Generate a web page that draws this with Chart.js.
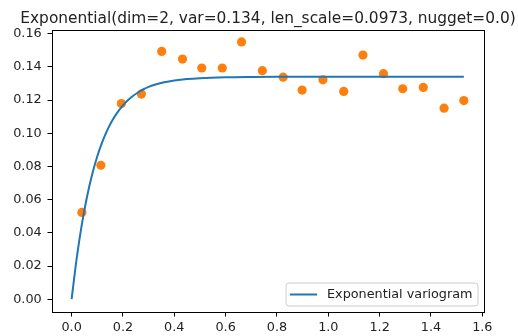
<!DOCTYPE html>
<html><head><meta charset="utf-8">
<script src="https://cdn.jsdelivr.net/npm/chart.js@4/dist/chart.umd.min.js"></script>
<style>html,body{margin:0;padding:0;background:#fff}#wrap{width:518px;height:336px}</style>
</head><body><div id="wrap"><canvas id="c" width="518" height="336"></canvas></div>
<script>
const titleText = "Exponential(dim=2, var=0.134, len_scale=0.0973, nugget=0.0)";
const lineLabel = "Exponential variogram";
const lagX = [0.040, 0.114, 0.194, 0.272, 0.351, 0.432, 0.507, 0.587, 0.662, 0.743, 0.824, 0.898, 0.979, 1.060, 1.135, 1.215, 1.290, 1.370, 1.451, 1.528];
const empiricalGamma = [0.0523, 0.0807, 0.1179, 0.1236, 0.1493, 0.1447, 0.1393, 0.1393, 0.1550, 0.1377, 0.1338, 0.1260, 0.1322, 0.1252, 0.1471, 0.1359, 0.1268, 0.1276, 0.1151, 0.1197];
const modelX = [0, 0.02, 0.04, 0.06, 0.08, 0.10, 0.12, 0.14, 0.16, 0.18, 0.20, 0.22, 0.24, 0.26, 0.28, 0.30, 0.33, 0.36, 0.40, 0.45, 0.50, 0.60, 0.70, 0.80, 1.00, 1.20, 1.40, 1.528];
const modelGamma = [0, 0.0249, 0.0452, 0.0617, 0.0751, 0.0861, 0.0950, 0.1022, 0.1081, 0.1129, 0.1168, 0.1200, 0.1226, 0.1247, 0.1265, 0.1279, 0.1295, 0.1307, 0.1318, 0.1327, 0.1332, 0.1337, 0.1339, 0.1340, 0.1340, 0.1340, 0.1340, 0.1340];
const xTicks = [0.0, 0.2, 0.4, 0.6, 0.8, 1.0, 1.2, 1.4, 1.6];
const yTicks = [0.00, 0.02, 0.04, 0.06, 0.08, 0.10, 0.12, 0.14, 0.16];

const FONT = "'DejaVu Sans', sans-serif";
const TXT = '#222';

const framePlugin = {
  id: 'frame',
  afterDraw(chart) {
    const ctx = chart.ctx, a = chart.chartArea;
    ctx.save();
    ctx.strokeStyle = '#000';
    ctx.lineWidth = 1;
    ctx.strokeRect(Math.round(a.left) + 0.5, Math.round(a.top) + 0.5, Math.round(a.right - a.left), Math.round(a.bottom - a.top));
    // title
    ctx.fillStyle = TXT;
    ctx.font = "15.4px " + FONT;
    ctx.textAlign = 'center';
    ctx.textBaseline = 'alphabetic';
    ctx.fillText(titleText, 268, 22.5);
    // legend
    const bx = 286, by = 283, bw = 192, bh = 23, r = 3;
    ctx.beginPath();
    ctx.moveTo(bx + r, by);
    ctx.arcTo(bx + bw, by, bx + bw, by + bh, r);
    ctx.arcTo(bx + bw, by + bh, bx, by + bh, r);
    ctx.arcTo(bx, by + bh, bx, by, r);
    ctx.arcTo(bx, by, bx + bw, by, r);
    ctx.closePath();
    ctx.fillStyle = 'rgba(255,255,255,0.8)';
    ctx.fill();
    ctx.strokeStyle = '#cccccc';
    ctx.lineWidth = 1;
    ctx.stroke();
    ctx.beginPath();
    ctx.moveTo(290, 294.5);
    ctx.lineTo(317, 294.5);
    ctx.strokeStyle = '#1f77b4';
    ctx.lineWidth = 2;
    ctx.stroke();
    ctx.fillStyle = TXT;
    ctx.font = "12.8px " + FONT;
    ctx.textAlign = 'left';
    ctx.textBaseline = 'middle';
    ctx.fillText(lineLabel, 327, 295);
    ctx.restore();
  }
};

new Chart(document.getElementById('c'), {
  type: 'scatter',
  data: {
    datasets: [
      {
        type: 'line',
        label: lineLabel,
        data: modelX.map((x, i) => ({ x: x, y: modelGamma[i] })),
        borderColor: '#1f77b4',
        borderWidth: 2,
        pointRadius: 0,
        fill: false,
        cubicInterpolationMode: 'monotone',
        order: 0
      },
      {
        type: 'scatter',
        label: 'empirical',
        data: lagX.map((x, i) => ({ x: x, y: empiricalGamma[i] })),
        backgroundColor: '#ff7f0e',
        borderColor: '#ff7f0e',
        borderWidth: 0,
        pointRadius: 4.6,
        order: 1
      }
    ]
  },
  options: {
    responsive: false,
    animation: false,
    devicePixelRatio: 1,
    layout: { padding: { top: 30, right: 34, left: 0, bottom: 0 } },
    plugins: { legend: { display: false }, title: { display: false }, tooltip: { enabled: false } },
    scales: {
      x: {
        type: 'linear',
        min: -0.0764, max: 1.6065,
        afterBuildTicks(s) { s.ticks = xTicks.map(v => ({ value: v })); },
        afterFit(s) { s.height = 24; },
        ticks: { callback: v => Number(v).toFixed(1), color: TXT, font: { family: FONT, size: 12.8 }, padding: 3, maxRotation: 0, autoSkip: false },
        grid: { display: true, drawOnChartArea: false, drawTicks: true, tickLength: 4.5, color: '#000' },
        border: { display: true, color: '#000' }
      },
      y: {
        type: 'linear',
        min: -0.0077, max: 0.1622,
        afterBuildTicks(s) { s.ticks = yTicks.map(v => ({ value: v })); },
        afterFit(s) { s.width = 52; },
        ticks: { callback: v => Number(v).toFixed(2), color: TXT, font: { family: FONT, size: 12.8 }, padding: 5.8, autoSkip: false },
        grid: { display: true, drawOnChartArea: false, drawTicks: true, tickLength: 4.5, color: '#000' },
        border: { display: true, color: '#000' }
      }
    }
  },
  plugins: [framePlugin]
});
</script></body></html>
